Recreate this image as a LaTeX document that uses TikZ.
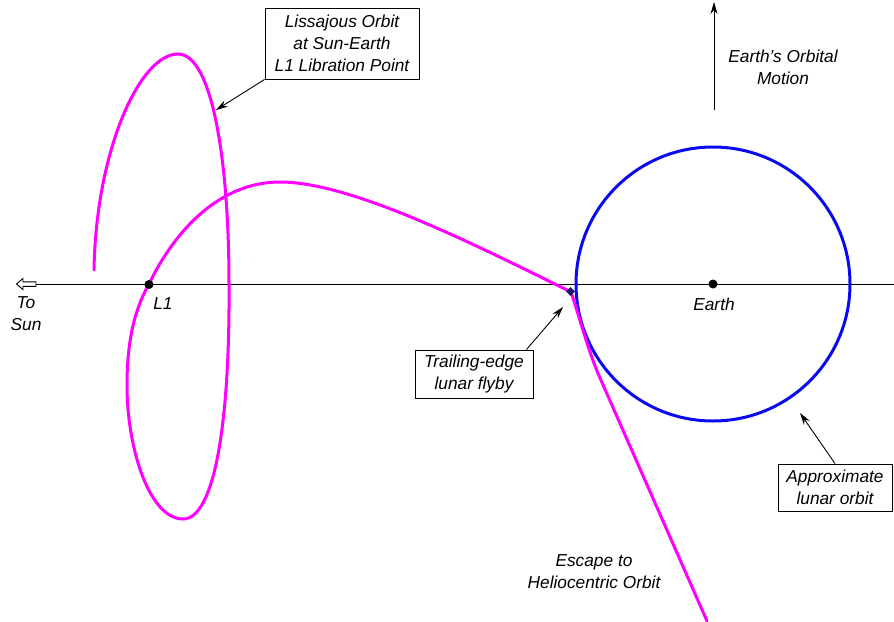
\documentclass[tikz,border=0pt]{standalone}
\usepackage{fontspec}
\setmainfont{Liberation Sans}
\usetikzlibrary{arrows.meta,shapes.geometric}
\definecolor{orbitmag}{RGB}{255,0,255}
\definecolor{moonblue}{RGB}{10,10,240}
\definecolor{flybynavy}{RGB}{20,20,110}
\tikzset{
  lbl/.style={font=\fontsize{17.3}{22}\selectfont\itshape, align=center, inner sep=0pt},
  callout/.style={lbl, draw=black, line width=0.9pt, fill=white},
  pointer/.style={draw=black, line width=0.9pt, -{Stealth[length=12pt,width=7pt]}},
  traj/.style={draw=orbitmag, line width=3pt, line cap=round, line join=round},
  dotmark/.style={circle, fill=black, inner sep=0pt, minimum size=9pt}
}
\begin{document}
\begin{tikzpicture}[x=1pt,y=-1pt]
\useasboundingbox (0,0) rectangle (894,621);

% Sun-Earth line and hollow arrow
\coordinate (axisend) at (894,284);
\coordinate (sunarrow) at (36,284);
\draw[line width=0.9pt] (sunarrow) -- (axisend);
\draw[line width=0.9pt, fill=white] (16.5,284) -- (23,278.5) -- (23,281.8) -- (36,281.8) -- (36,286.4) -- (23,286.4) -- (23,289.6) -- cycle;
\node[lbl] (tosun) at (26,314) {To\\Sun};

% lunar orbit
\node[circle, draw=moonblue, line width=3pt, minimum size=274pt, inner sep=0pt] (moonorbit) at (713,284) {};

% trajectory
\draw[traj] (94,270) .. controls (96,150) and (140,54) .. (178,54)
  .. controls (212,54) and (229,160) .. (229,284)
  .. controls (230,420) and (215,519) .. (183,519)
  .. controls (150,519) and (127,450) .. (127,385)
  .. controls (127,335) and (137,305) .. (149,284)
  .. controls (175,230) and (220,182) .. (280,182)
  .. controls (350,182) and (470,242) .. (571,292);
\draw[traj] (571,292) .. controls (578,312) and (588,351) .. (600,378) -- (707,621);

% markers
\node[dotmark] (lone) at (149,284.5) {};
\node[dotmark] (earth) at (713,284) {};
\node[diamond, fill=flybynavy, inner sep=0pt, minimum size=9pt] (flyby) at (570.5,291.5) {};

\node[lbl] (loneLabel) at (163,304) {L1};
\node[lbl] (earthLabel) at (714,304) {Earth};

% Earth's orbital motion
\coordinate (motionbase) at (714,110);
\coordinate (motiontip) at (714,2);
\draw[pointer] (motionbase) -- (motiontip);
\node[lbl] (motionLabel) at (783,67) {Earth's Orbital\\Motion};

% callouts
\node[callout, minimum width=154pt, minimum height=71pt] (liss) at (342,43.5) {Lissajous Orbit\\at Sun-Earth\\L1 Libration Point};
\coordinate (lisstip) at (216,110);
\draw[pointer] (liss.south west) -- (lisstip);

\node[callout, minimum width=118pt, minimum height=48pt] (trail) at (474,374) {Trailing-edge\\lunar flyby};
\coordinate (trailtip) at (563,307);
\draw[pointer] ([xshift=-7pt]trail.north east) -- (trailtip);

\node[callout, minimum width=114pt, minimum height=47pt] (approx) at (835,487.5) {Approximate\\lunar orbit};
\coordinate (approxtip) at (800,413);
\draw[pointer] (approx.north) -- (approxtip);

\node[lbl] (escape) at (594,572) {Escape to\\Heliocentric Orbit};
\end{tikzpicture}
\end{document}
